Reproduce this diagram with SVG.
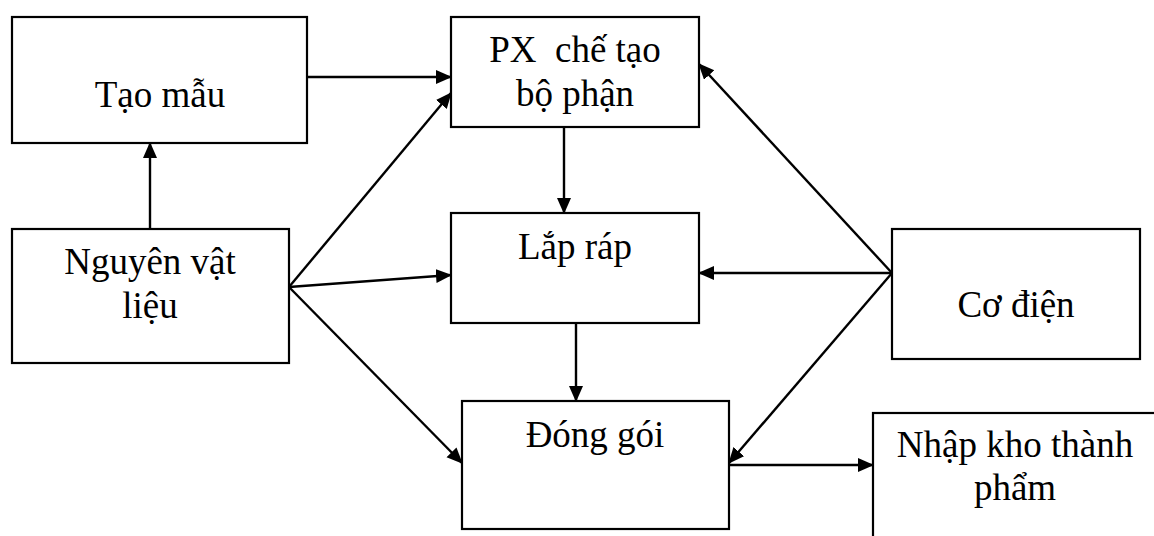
<svg xmlns="http://www.w3.org/2000/svg" width="1154" height="536" viewBox="0 0 1154 536">
  <style>
    .box { fill: #ffffff; stroke: #000000; stroke-width: 2.2; }
    .lbl { font-family: "Liberation Serif", "Times New Roman", serif; font-size: 37px; fill: #000000; text-anchor: middle; }
    .wire { fill: none; stroke: #000000; stroke-width: 2.4; marker-end: url(#head); }
  </style>
  <defs>
    <marker id="head" markerUnits="userSpaceOnUse" markerWidth="17" markerHeight="15" refX="15" refY="7" orient="auto">
      <path d="M0,0 L16,7 L0,14 z" fill="#000000"/>
    </marker>
  </defs>

  <rect width="1154" height="536" fill="#ffffff"/>

  <!-- process steps -->
  <g id="tao-mau">
    <rect class="box" x="12" y="17" width="295" height="126"/>
    <text class="lbl" x="160" y="107">Tạo mẫu</text>
  </g>
  <g id="px-che-tao">
    <rect class="box" x="451" y="17" width="248" height="110"/>
    <text class="lbl" x="575" y="62" xml:space="preserve">PX  chế tạo</text>
    <text class="lbl" x="575" y="106">bộ phận</text>
  </g>
  <g id="nguyen-vat-lieu">
    <rect class="box" x="12" y="229" width="277" height="134"/>
    <text class="lbl" x="150" y="274">Nguyên vật</text>
    <text class="lbl" x="150" y="318">liệu</text>
  </g>
  <g id="lap-rap">
    <rect class="box" x="451" y="213" width="248" height="110"/>
    <text class="lbl" x="575" y="259">Lắp ráp</text>
  </g>
  <g id="co-dien">
    <rect class="box" x="892" y="229" width="248" height="130"/>
    <text class="lbl" x="1016" y="317">Cơ điện</text>
  </g>
  <g id="dong-goi">
    <rect class="box" x="462" y="401" width="267" height="128"/>
    <text class="lbl" x="595" y="447">Đóng gói</text>
  </g>
  <g id="nhap-kho">
    <rect class="box" x="873" y="413" width="300" height="150"/>
    <text class="lbl" x="1015" y="457">Nhập kho thành</text>
    <text class="lbl" x="1015" y="500">phẩm</text>
  </g>

  <!-- flows between steps -->
  <g id="connectors">
    <path class="wire" d="M307,77 L451,77"/>
    <path class="wire" d="M150,229 L150,143"/>
    <path class="wire" d="M289,287 L451,93"/>
    <path class="wire" d="M289,287 L451,275"/>
    <path class="wire" d="M289,287 L462,463"/>
    <path class="wire" d="M564,127 L564,213"/>
    <path class="wire" d="M576,323 L576,401"/>
    <path class="wire" d="M892,273 L699,64"/>
    <path class="wire" d="M892,273 L699,273"/>
    <path class="wire" d="M892,273 L729,463"/>
    <path class="wire" d="M729,465 L873,465"/>
  </g>
</svg>
